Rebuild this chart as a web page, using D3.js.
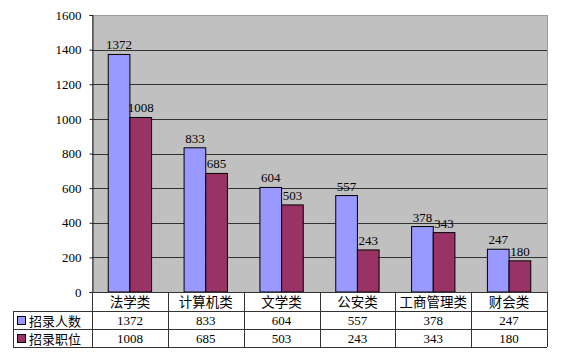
<!DOCTYPE html>
<html><head><meta charset="utf-8">
<script src="https://cdn.jsdelivr.net/npm/d3@7"></script>
<style>body{margin:0;background:#fff}svg{display:block}</style>
</head><body>
<svg id="c" width="562" height="356"></svg>
<script>
const categories = ["法学类","计算机类","文学类","公安类","工商管理类","财会类"];
const seriesNames = ["招录人数","招录职位"];
const recruits = [1372,833,604,557,378,247];
const positions = [1008,685,503,243,343,180];
const yTicks = [0,200,400,600,800,1000,1200,1400,1600];
const colors = ["#9999FF","#993366"];

const svg = d3.select("#c");
const L = 92, R = 547, T = 15, B = 292;
const numFont = "'Liberation Serif', 'DejaVu Serif', serif";
const cjkFont = "'Noto Sans CJK SC', sans-serif";

const x = d3.scaleBand().domain(categories).range([L, R]);
const y = d3.scaleLinear().domain([0, 1600]).range([B, T]);

// plot background
svg.append("rect").attr("x", L + 0.5).attr("y", T + 0.5).attr("width", R - L).attr("height", B - T)
  .attr("fill", "#C0C0C0").attr("stroke", "#999").attr("stroke-width", 1);

// grid
svg.append("g").selectAll("line").data(yTicks.filter(d => d > 0 && d < 1600)).join("line")
  .attr("x1", L).attr("x2", R).attr("y1", d => Math.round(y(d)) + 0.5).attr("y2", d => Math.round(y(d)) + 0.5)
  .attr("stroke", "#333").attr("stroke-width", 1);

// y axis
const yAxis = d3.axisLeft(y).tickValues(yTicks).tickSize(3).tickPadding(8).tickFormat(d3.format("d"));
const ga = svg.append("g").attr("transform", `translate(${L + 0.5},0)`).call(yAxis);
ga.select(".domain").attr("stroke", "#222");
ga.selectAll(".tick line").attr("stroke", "#222");
ga.selectAll(".tick text").attr("font-family", numFont).attr("font-size", 13).attr("fill", "#000");

// bars
const data = categories.map((c, i) => ({c, v: [recruits[i], positions[i]]}));
const bw = x.bandwidth() / 3.5;
const g = svg.append("g");
data.forEach(d => {
  d.v.forEach((v, s) => {
    const bx = x(d.c) + x.bandwidth() / 2 - bw + s * bw;
    g.append("rect").attr("x", bx).attr("y", y(v)).attr("width", bw).attr("height", B - y(v))
      .attr("fill", colors[s]).attr("stroke", "#000").attr("stroke-width", 1);
    g.append("text").attr("x", bx + bw / 2).attr("y", y(v) - 5).attr("text-anchor", "middle")
      .attr("font-family", numFont).attr("font-size", 13).attr("fill", "#000").text(v);
  });
});

// data table
const rowH = [B, 311, 329, 347];
const tl = 13;
const tg = svg.append("g").attr("stroke", "#333").attr("stroke-width", 1);
tg.append("line").attr("x1", L).attr("x2", R).attr("y1", rowH[0] + 0.5).attr("y2", rowH[0] + 0.5);
[rowH[1], rowH[2], rowH[3]].forEach(yy => tg.append("line").attr("x1", tl).attr("x2", R).attr("y1", yy + 0.5).attr("y2", yy + 0.5));
tg.append("line").attr("x1", tl + 0.5).attr("x2", tl + 0.5).attr("y1", rowH[1]).attr("y2", rowH[3]);
categories.forEach(c => tg.append("line").attr("x1", Math.round(x(c)) + 0.5).attr("x2", Math.round(x(c)) + 0.5).attr("y1", rowH[0]).attr("y2", rowH[3]));
tg.append("line").attr("x1", R + 0.5).attr("x2", R + 0.5).attr("y1", rowH[0]).attr("y2", rowH[3]);

// header
svg.append("g").selectAll("text").data(categories).join("text")
  .attr("x", d => x(d) + x.bandwidth() / 2).attr("y", rowH[0] + 15).attr("text-anchor", "middle")
  .attr("font-family", cjkFont).attr("font-size", 13.5).attr("fill", "#000").text(d => d);

[recruits, positions].forEach((arr, s) => {
  const yy = rowH[s + 1];
  svg.append("g").selectAll("text").data(arr).join("text")
    .attr("x", (d, i) => x(categories[i]) + x.bandwidth() / 2).attr("y", yy + 14).attr("text-anchor", "middle")
    .attr("font-family", numFont).attr("font-size", 13).attr("fill", "#000").text(d => d);
  svg.append("rect").attr("x", 17.5).attr("y", yy + 5.5).attr("width", 8).attr("height", 8)
    .attr("fill", colors[s]).attr("stroke", "#000").attr("stroke-width", 1);
  svg.append("text").attr("x", 29).attr("y", yy + 14.5).attr("font-family", cjkFont).attr("font-size", 13)
    .attr("fill", "#000").text(seriesNames[s]);
});
</script>
</body></html>
